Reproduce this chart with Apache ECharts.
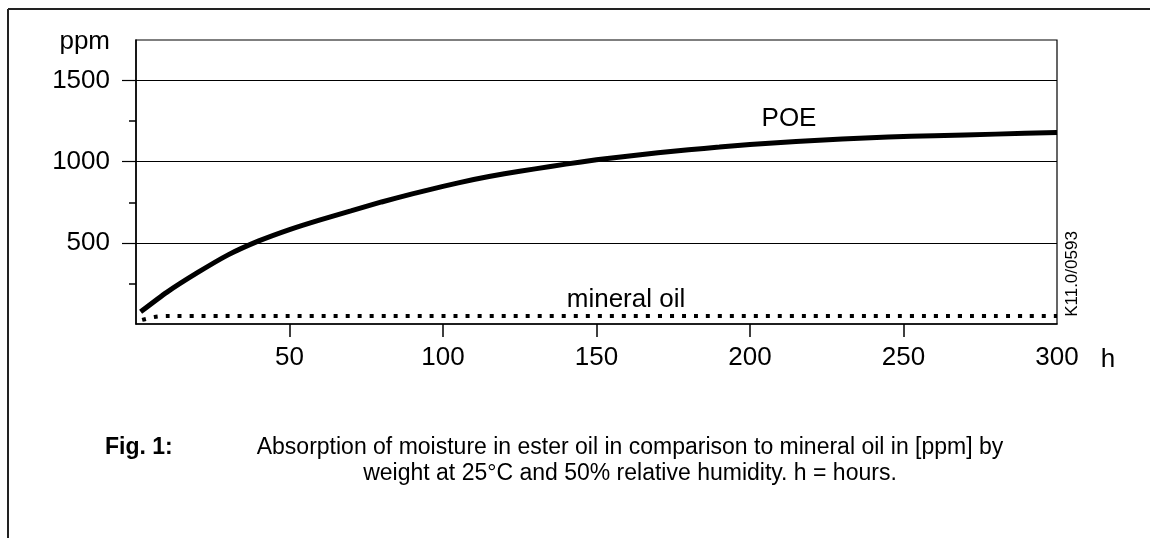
<!DOCTYPE html>
<html>
<head>
<meta charset="utf-8">
<script src="https://cdn.jsdelivr.net/npm/echarts@6/dist/echarts.min.js"></script>
<style>
  html, body { margin: 0; background: #fff; }
  #chart { width: 1150px; height: 538px; }
</style>
</head>
<body>
<div id="chart"></div>
<script>
// POE moisture absorption (ppm) over time (h)
var poeHours = [1.5, 10, 20, 30, 40, 50, 60, 70, 80, 90, 100, 110, 120, 130, 140, 150, 160, 170, 180, 190, 200, 215, 230, 245, 260, 280, 300]
var poePpm   = [75, 195, 316, 426, 512, 582, 642, 697, 752, 802, 848, 890, 926, 956, 985, 1012, 1034, 1055, 1074, 1090, 1106, 1124, 1140, 1152, 1160, 1170, 1180]
// mineral oil
var oilHours = [2, 6, 10, 300]
var oilPpm   = [25, 43, 50, 50]

var yMajor = [500, 1000, 1500]
var yMinor = [250, 750, 1250]
var xTicks = [50, 100, 150, 200, 250]
var xLabels = [50, 100, 150, 200, 250, 300]

var font = '"Liberation Sans", Arial, sans-serif'

function pairs(xs, ys) {
  var out = []
  for (let i = 0; i < xs.length; i++) {
    out.push([xs[i], ys[i]])
  }
  return out
}

var myChart = echarts.init(document.getElementById('chart'))

var option = {
  animation: false,
  backgroundColor: '#fff',
  grid: {
    left: 136, top: 40, right: 93, bottom: 214,
    show: true,
    borderColor: '#000',
    borderWidth: 1.2
  },
  xAxis: {
    type: 'value',
    min: 0,
    max: 300,
    interval: 50,
    axisLine: { lineStyle: { color: '#000', width: 1.5 } },
    axisTick: { customValues: xTicks, length: 13, lineStyle: { color: '#000', width: 1.5 } },
    axisLabel: {
      customValues: xLabels, color: '#000', fontSize: 26, fontFamily: font, margin: 21,
      formatter: function (v) { return String(v) }
    },
    splitLine: { show: false }
  },
  yAxis: [
    {
      type: 'value',
      min: 0,
      max: 1750,
      interval: 500,
      axisLine: { show: true, lineStyle: { color: '#000', width: 1.5 } },
      axisTick: { show: true, customValues: yMajor, length: 14, lineStyle: { color: '#000', width: 1.2 } },
      axisLabel: {
        customValues: yMajor, color: '#000', fontSize: 26, fontFamily: font, margin: 26,
        formatter: function (v) { return String(v) }
      },
      splitLine: { show: true, lineStyle: { color: '#000', width: 1.2 } }
    },
    {
      // minor ticks only
      type: 'value',
      position: 'left',
      min: 0,
      max: 1750,
      interval: 500,
      axisLine: { show: false },
      axisTick: { show: true, customValues: yMinor, length: 7, lineStyle: { color: '#000', width: 1.5 } },
      axisLabel: { show: false },
      splitLine: { show: false }
    }
  ],
  series: [
    {
      name: 'POE',
      type: 'line',
      data: pairs(poeHours, poePpm),
      smooth: 0.2,
      symbol: 'none',
      lineStyle: { color: '#000', width: 5 }
    },
    {
      name: 'mineral oil',
      type: 'line',
      data: pairs(oilHours, oilPpm),
      smooth: 0.3,
      symbol: 'none',
      lineStyle: { color: '#000', width: 4, type: [4, 8], cap: 'butt' }
    }
  ],
  graphic: [
    // outer frame (top and left edges)
    { type: 'line', shape: { x1: 8, y1: 9, x2: 1150, y2: 9 }, style: { stroke: '#222', lineWidth: 2 } },
    { type: 'line', shape: { x1: 8, y1: 9, x2: 8, y2: 538 }, style: { stroke: '#222', lineWidth: 2 } },
    { type: 'text', x: 110, y: 42, style: { text: 'ppm', fill: '#000', font: '26px ' + font, align: 'right', verticalAlign: 'middle' } },
    { type: 'text', x: 1108, y: 360, style: { text: 'h', fill: '#000', font: '26px ' + font, align: 'center', verticalAlign: 'middle' } },
    { type: 'text', x: 789, y: 119, style: { text: 'POE', fill: '#000', font: '26px ' + font, align: 'center', verticalAlign: 'middle' } },
    { type: 'text', x: 626, y: 300, style: { text: 'mineral oil', fill: '#000', font: '26px ' + font, align: 'center', verticalAlign: 'middle' } },
    { type: 'text', x: 1072, y: 274, rotation: Math.PI / 2, style: { text: 'K11.0/0593', fill: '#000', font: '17px ' + font, align: 'center', verticalAlign: 'middle' } },
    { type: 'text', x: 105, y: 448, style: { text: 'Fig. 1:', fill: '#000', font: 'bold 23px ' + font, align: 'left', verticalAlign: 'middle' } },
    { type: 'text', x: 630, y: 448, style: { text: 'Absorption of moisture in ester oil in comparison to mineral oil in [ppm] by', fill: '#000', font: '23px ' + font, align: 'center', verticalAlign: 'middle' } },
    { type: 'text', x: 630, y: 474, style: { text: 'weight at 25°C and 50% relative humidity. h = hours.', fill: '#000', font: '23px ' + font, align: 'center', verticalAlign: 'middle' } }
  ]
}

myChart.setOption(option, true)
</script>
</body>
</html>
